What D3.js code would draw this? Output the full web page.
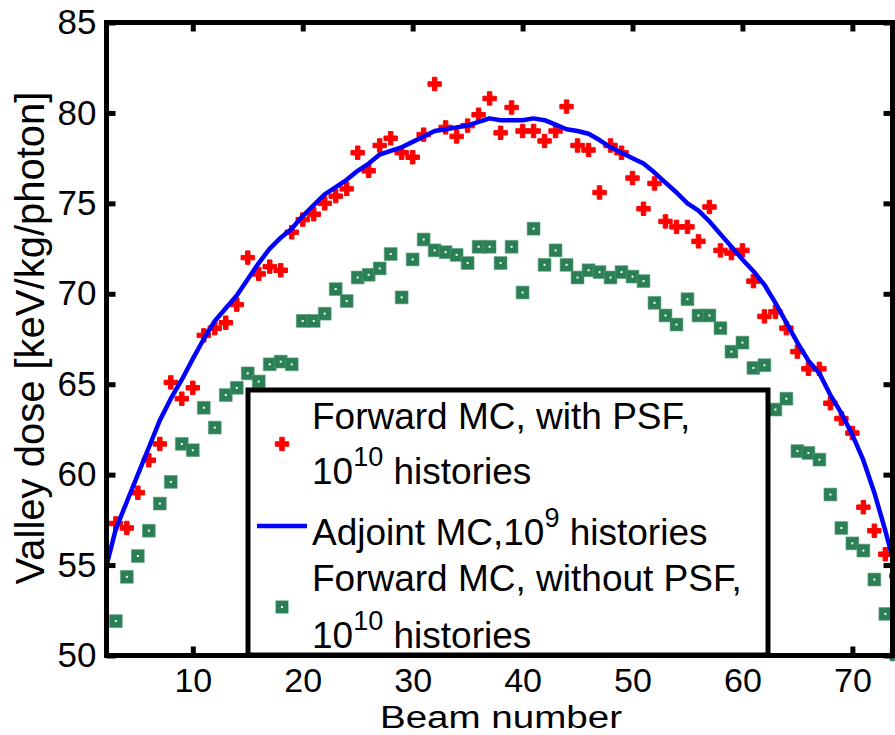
<!DOCTYPE html>
<html><head><meta charset="utf-8">
<script src="https://cdn.jsdelivr.net/npm/d3@7"></script>
<style>
body{margin:0;background:#fff}
svg{display:block}
text{font-family:"Liberation Sans",Arial,Helvetica,sans-serif;fill:#000}
</style>
</head><body>
<svg id="chart" width="895" height="735"></svg>
<script>
// ---- data ----
const beams = [3,4,5,6,7,8,9,10,11,12,13,14,15,16,17,18,19,20,21,22,23,24,25,26,27,28,29,30,31,32,33,34,35,36,37,38,
  39,40,41,42,43,44,45,46,47,48,49,50,51,52,53,54,55,56,57,58,59,60,61,62,63,64,65,66,67,68,69,70,71,72,73,74];
const forwardWithPSF = [57.3,57.05,59.0,60.8,61.7,65.1,64.2,64.8,67.7,68.1,68.4,69.4,72.0,71.1,71.5,71.3,73.4,74.1,74.4,75.0,
  75.4,75.8,77.8,76.8,78.2,78.6,77.8,77.55,78.8,81.6,79.2,78.7,79.3,79.9,80.8,78.9,80.3,79.0,79.0,78.45,79.0,80.35,
  78.2,77.95,75.6,78.2,77.8,76.4,74.7,76.1,74.0,73.7,73.7,72.9,74.8,72.4,72.25,72.4,70.7,68.75,69.0,68.1,66.8,65.85,
  65.85,63.95,63.1,62.3,58.2,56.9,55.6,54.4];
const forwardWithoutPSF = [51.9,54.35,55.5,56.9,58.4,59.6,61.7,61.35,63.7,62.6,64.4,64.8,65.6,65.15,66.1,66.25,66.1,68.5,68.5,
  68.9,70.26,69.6,70.9,71.05,71.4,72.2,69.8,71.9,73.0,72.4,72.3,72.15,71.7,72.6,72.6,71.7,72.6,70.07,73.6,71.6,72.4,
  71.6,70.9,71.3,71.2,70.9,71.2,70.95,70.7,69.5,68.8,68.3,69.7,68.8,68.8,68.1,66.8,67.3,65.9,66.05,63.6,64.2,61.3,
  61.2,60.83,58.9,57.05,56.2,55.8,54.2,52.3,50.05];
const adjointBeams = [2,3,4,5,6,7,8,9,10,11,12,13,14,15,16,17,18,19,20,21,22,23,24,25,26,27,28,29,30,31,32,33,34,35,36,37,38,
  39,40,41,42,43,44,45,46,47,48,49,50,51,52,53,54,55,56,57,58,59,60,61,62,63,64,65,66,67,68,69,70,71,72,73,74];
const adjointMC = [54.6,57.0,58.5,60.0,61.5,63.0,64.2,65.25,66.4,67.5,68.5,69.2,69.9,70.8,71.7,72.5,73.1,73.6,74.3,74.9,75.5,
  75.9,76.3,76.8,77.2,77.7,77.9,78.1,78.4,78.7,79.0,79.1,79.2,79.3,79.5,79.7,79.6,79.6,79.6,79.7,79.6,79.35,79.1,
  79.0,78.85,78.5,78.1,77.8,77.5,77.2,76.7,76.15,75.6,75.0,74.6,74.0,73.3,72.6,71.9,71.25,70.5,69.5,68.4,67.3,66.3,
  65.6,64.4,63.4,62.2,60.8,59.0,56.9,54.6];
const xTicks = [10,20,30,40,50,60,70];
const yTicks = [50,55,60,65,70,75,80,85];
const xLabel = "Beam number";
const yLabel = "Valley dose [keV/kg/photon]";

// ---- drawing ----
const svg = d3.select("#chart");
const L = 106.5, R = 892.5, T = 22.5, B = 655.5;
const x = d3.scaleLinear().domain([2.15, 73.65]).range([L, R]);
const y = d3.scaleLinear().domain([50, 85]).range([B, T]);

const RED = "#ff0000", BLUE = "#0000ff", GREEN = "#2b7f55";

svg.append("defs").append("clipPath").attr("id","plotclip")
  .append("rect").attr("x",L).attr("y",T).attr("width",R-L).attr("height",B-T);

const cross = d3.symbol().type(d3.symbolCross).size(100);
const square = d3.symbol().type(d3.symbolSquare).size(165);

// red pluses
svg.append("g").selectAll("path").data(beams).join("path")
  .attr("d", cross)
  .attr("transform", (d,i)=>`translate(${x(d)},${y(forwardWithPSF[i])})`)
  .attr("fill", RED).attr("stroke", RED).attr("stroke-width", 1);

// blue line
svg.append("path")
  .datum(adjointBeams.map((b,i)=>[b, adjointMC[i]]))
  .attr("clip-path","url(#plotclip)")
  .attr("d", d3.line().x(d=>x(d[0])).y(d=>y(d[1])))
  .attr("fill","none").attr("stroke",BLUE).attr("stroke-width",4.5).attr("stroke-linejoin","round");

// green squares
const gsq = svg.append("g").selectAll("g").data(beams).join("g")
  .attr("transform", (d,i)=>`translate(${x(d)},${y(forwardWithoutPSF[i])})`);
gsq.append("path").attr("d", square).attr("fill", GREEN).attr("stroke","#5a9c7a").attr("stroke-width",0.6);
gsq.append("rect").attr("x",-1).attr("y",-1).attr("width",2).attr("height",2).attr("fill","#fff");

// axes
const ax = svg.append("g").attr("transform",`translate(0,${B})`)
  .call(d3.axisBottom(x).tickValues(xTicks).tickSize(-9).tickPadding(12));
const ay = svg.append("g").attr("transform",`translate(${L},0)`)
  .call(d3.axisLeft(y).tickValues(yTicks).tickSize(-9).tickPadding(10));
const at = svg.append("g").attr("transform",`translate(0,${T})`)
  .call(d3.axisTop(x).tickValues(xTicks).tickSize(-9).tickFormat(""));
const ar = svg.append("g").attr("transform",`translate(${R},0)`)
  .call(d3.axisRight(y).tickValues(yTicks).tickSize(-9).tickFormat(""));
[ax,ay,at,ar].forEach(g=>{
  g.select(".domain").remove();
  g.selectAll(".tick line").attr("stroke","#000").attr("stroke-width",5);
  g.selectAll(".tick text").attr("font-family",'"Liberation Sans",Arial,sans-serif').attr("fill","#000");
});
ax.selectAll(".tick text").attr("font-size",34);
ay.selectAll(".tick text").attr("font-size",35);
// frame
svg.append("rect").attr("x",L).attr("y",T).attr("width",R-L).attr("height",B-T)
  .attr("fill","none").attr("stroke","#000").attr("stroke-width",5);

// axis labels
svg.append("text").attr("x", 501).attr("y", 728.3).attr("text-anchor","middle")
  .attr("font-size",31).attr("textLength",242).attr("lengthAdjust","spacingAndGlyphs").text(xLabel);
svg.append("text").attr("transform","translate(44,338) rotate(-90)").attr("text-anchor","middle")
  .attr("font-size",40).text(yLabel);

// legend
const lg = svg.append("g");
lg.append("rect").attr("x",248).attr("y",390).attr("width",520).attr("height",265)
  .attr("fill","#fff").attr("stroke","#000").attr("stroke-width",5);
const lfs = 37, sfs = 27;
function legendLine(yb, parts){
  const t = lg.append("text").attr("x",312).attr("y",yb).attr("font-size",lfs);
  parts.forEach(p=>{
    if (p.sup) t.append("tspan").attr("font-size",sfs).attr("dy",-18).text(p.sup);
    else t.append("tspan").attr("dy", p.down ? 18 : 0).text(p.t);
  });
}
legendLine(429, [{t:"Forward MC, with PSF,"}]);
legendLine(484, [{t:"10"},{sup:"10"},{t:" histories",down:true}]);
legendLine(545, [{t:"Adjoint MC,10"},{sup:"9"},{t:" histories",down:true}]);
legendLine(591, [{t:"Forward MC, without PSF,"}]);
legendLine(648, [{t:"10"},{sup:"10"},{t:" histories",down:true}]);

lg.append("path").attr("d",cross).attr("transform","translate(282,444)")
  .attr("fill",RED).attr("stroke",RED).attr("stroke-width",1);
lg.append("line").attr("x1",257).attr("x2",307).attr("y1",526).attr("y2",526)
  .attr("stroke",BLUE).attr("stroke-width",4.5);
const lsq = lg.append("g").attr("transform","translate(282,607)");
lsq.append("path").attr("d",square).attr("fill",GREEN);
lsq.append("rect").attr("x",-1).attr("y",-1).attr("width",2).attr("height",2).attr("fill","#fff");
</script>
</body></html>
